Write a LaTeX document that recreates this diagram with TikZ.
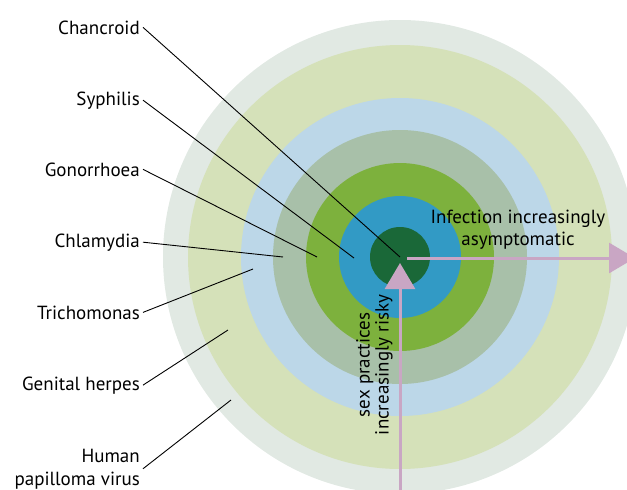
\documentclass[tikz,border=0pt]{standalone}
\usepackage{fontspec}
\setmainfont{PT Sans}
\usepackage{tikz}
\usetikzlibrary{
    positioning,
    arrows.meta,
}
\definecolor{ringHPV}{HTML}{E1E9E3}
\definecolor{ringHerpes}{HTML}{D5E1B9}
\definecolor{ringTrich}{HTML}{BCD7E8}
\definecolor{ringChlam}{HTML}{A8C0A9}
\definecolor{ringGono}{HTML}{7DB13D}
\definecolor{ringSyph}{HTML}{329AC5}
\definecolor{ringChanc}{HTML}{1A6838}
\definecolor{trend}{HTML}{C9A6C4}
\tikzset{
    % Text styles
    disease/.style={anchor=base east, inner sep=3pt, align=right,
                    font=\fontsize{19}{23}\selectfont},
    trend label/.style={align=center, inner sep=0pt,
                        font=\fontsize{19}{22}\selectfont},
    % Connector styles
    pointer/.style={black, line width=0.9pt},
    trend arrow/.style={trend, line width=3pt,
                        -{Triangle[length=26pt, width=30pt]}},
}
\begin{document}
\begin{tikzpicture}[x=1pt, y=-1pt]
    \useasboundingbox (0,0) rectangle (627,490);
    \clip (0,0) rectangle (627,490);

    % Rings
    \coordinate (centre) at (400,257);
    \fill[ringHPV]    (centre) circle[radius=237pt];
    \fill[ringHerpes] (centre) circle[radius=212pt];
    \fill[ringTrich]  (centre) circle[radius=159pt];
    \fill[ringChlam]  (centre) circle[radius=127pt];
    \fill[ringGono]   (centre) circle[radius=94pt];
    \fill[ringSyph]   (centre) circle[radius=61pt];
    \fill[ringChanc]  (centre) circle[radius=30pt];

    % Disease labels
    \node[disease] (chancroid) at (143,34)  {Chancroid};
    \node[disease] (syphilis)  at (143,105) {Syphilis};
    \node[disease] (gonorrhoea) at (143,176) {Gonorrhoea};
    \node[disease] (chlamydia) at (143,247) {Chlamydia};
    \node[disease] (trichomonas) at (143,319) {Trichomonas};
    \node[disease] (herpes)    at (143,390) {Genital herpes};
    \node[disease] (hpv)       at (143,485) {Human\\papilloma virus};

    % Pointer ends
    \coordinate (chancroid end)   at (400,257);
    \coordinate (syphilis end)    at (354,258);
    \coordinate (gonorrhoea end)  at (317,257);
    \coordinate (chlamydia end)   at (283,257);
    \coordinate (trichomonas end) at (253,269);
    \coordinate (herpes end)      at (228,330);
    \coordinate (hpv end)         at (231,400);

    \draw[pointer] (chancroid.east)   -- (chancroid end);
    \draw[pointer] (syphilis.east)    -- (syphilis end);
    \draw[pointer] (gonorrhoea.east)  -- (gonorrhoea end);
    \draw[pointer] (chlamydia.east)   -- (chlamydia end);
    \draw[pointer] (trichomonas.east) -- (trichomonas end);
    \draw[pointer] (herpes.east)      -- (herpes end);
    \draw[pointer] (hpv.east)         -- (hpv end);

    % Trend arrows
    \coordinate (symptom start) at (407,258);
    \coordinate (symptom end)   at (635,258);
    \coordinate (risk start)    at (400,490);
    \coordinate (risk end)      at (400,263);
    \draw[trend arrow] (symptom start) -- (symptom end);
    \draw[trend arrow] (risk start) -- (risk end);

    \node[trend label] (symptom) at (518,229.5)
        {Infection increasingly\\asymptomatic};
    \node[trend label, rotate=90, font=\fontsize{19}{19}\selectfont]
        (risk) at (374.5,365) {sex practices\\increasingly risky};
\end{tikzpicture}
\end{document}
